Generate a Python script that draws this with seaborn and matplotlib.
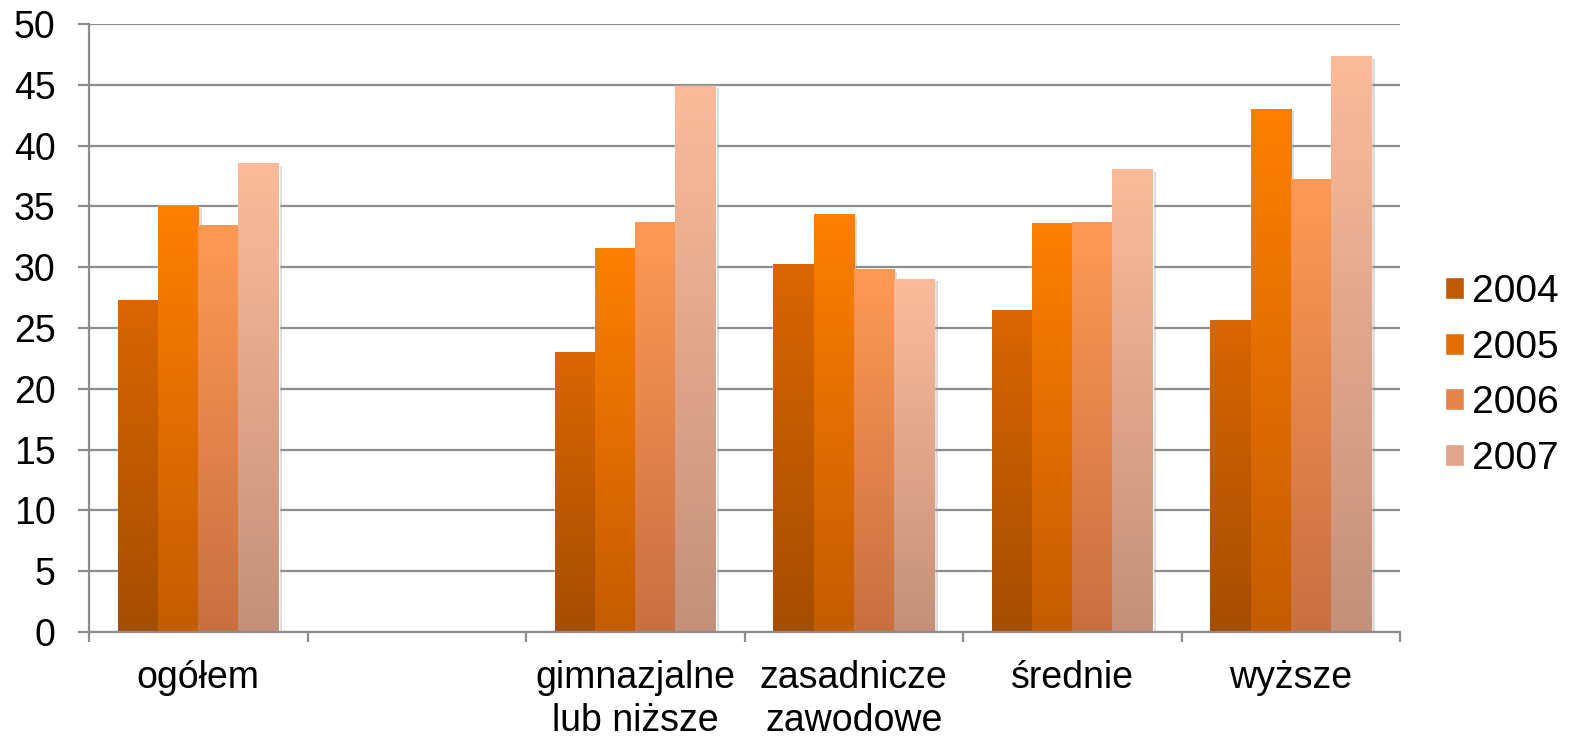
import numpy as np
import pandas as pd
import matplotlib.pyplot as plt
import matplotlib.colors as mcolors
import matplotlib.patheffects as pe
from matplotlib.patches import Patch
import seaborn as sns

# data
categories = ["ogółem", " ", "gimnazjalne\nlub niższe", "zasadnicze\nzawodowe", "średnie", "wyższe"]
years = ["2004", "2005", "2006", "2007"]
v2004 = [27.3, np.nan, 23.0, 30.2, 26.4, 25.6]
v2005 = [35.0, np.nan, 31.5, 34.3, 33.6, 43.0]
v2006 = [33.4, np.nan, 33.7, 29.8, 33.7, 37.2]
v2007 = [38.5, np.nan, 44.9, 29.0, 38.0, 47.3]

top_colors = ["#d96600", "#ff7f00", "#ff9955", "#fbbb99"]
bottom_colors = ["#a64d00", "#c45c00", "#c87040", "#c4907a"]

rows = []
for year, vals in zip(years, [v2004, v2005, v2006, v2007]):
    for cat, v in zip(categories, vals):
        rows.append({"kategoria": cat, "rok": year, "wartosc": v})
df = pd.DataFrame(rows).dropna()

sns.set_style("white")
plt.rcParams["font.family"] = ["Liberation Sans", "DejaVu Sans"]
plt.rcParams["text.color"] = "black"
plt.rcParams["xtick.labelcolor"] = "black"
plt.rcParams["ytick.labelcolor"] = "black"

fig, ax = plt.subplots(figsize=(15.69, 7.36), dpi=100)
fig.subplots_adjust(left=89 / 1569, right=1400 / 1569, top=1 - 24 / 736, bottom=1 - 632 / 736)

sns.barplot(data=df, x="kategoria", y="wartosc", hue="rok", order=categories,
            hue_order=years, palette=top_colors, width=0.735, gap=0,
            saturation=1, errorbar=None, legend=False, ax=ax)

# vertical gradient on each bar, plus a soft shadow
top_rgb = [mcolors.to_rgb(c) for c in top_colors]
bot_rgb = [mcolors.to_rgb(c) for c in bottom_colors]
for p in list(ax.patches):
    fc = mcolors.to_rgb(p.get_facecolor())
    i = int(np.argmin([np.sum((np.array(fc) - np.array(t)) ** 2) for t in top_rgb]))
    x, w, h = p.get_x(), p.get_width(), p.get_height()
    if not np.isfinite(h) or h <= 0:
        continue
    p.set_path_effects([pe.SimplePatchShadow(offset=(2.5, -1.5), shadow_rgbFace="#999999", alpha=0.35),
                        pe.Normal()])
    t = np.linspace(0, 1, 200)[:, None, None]
    grad = np.array(bot_rgb[i])[None, None, :] * (1 - t) + np.array(top_rgb[i])[None, None, :] * t
    ax.imshow(grad, extent=[x, x + w, 0, h], origin="lower", aspect="auto", zorder=2)

ax.set_xlim(-0.5, len(categories) - 0.5)
ax.set_ylim(0, 50)
ax.set_yticks(np.arange(0, 51, 5))
ax.set_xlabel("")
ax.set_ylabel("")

ax.yaxis.grid(True, color="#8c8c8c", linewidth=1.6)
ax.set_axisbelow(True)
for s in ["top", "right"]:
    ax.spines[s].set_visible(False)
for s in ["left", "bottom"]:
    ax.spines[s].set_color("#8c8c8c")
    ax.spines[s].set_linewidth(1.6)

ax.set_xticks(np.arange(-0.5, len(categories)), minor=True)
ax.tick_params(axis="x", which="major", bottom=True, length=0, pad=20, labelsize=27)
ax.tick_params(axis="x", which="minor", bottom=True, length=7, width=1.6, color="#8c8c8c")
ax.tick_params(axis="y", left=True, length=8, width=1.6, color="#8c8c8c", labelsize=27, pad=16)
for lbl in ax.get_xticklabels():
    lbl.set_linespacing(1.25)

handles = [Patch(facecolor=mcolors.to_hex(
    (np.array(top_rgb[i]) + np.array(bot_rgb[i])) / 2)) for i in range(4)]
ax.legend(handles, years, loc="center left", bbox_to_anchor=(1445 / 1569, 0.49),
          bbox_transform=fig.transFigure, frameon=False, fontsize=28, borderpad=0,
          borderaxespad=0, handlelength=0.5, handleheight=0.5, handletextpad=0.2,
          labelspacing=0.5)

fig.savefig("out.png", dpi=100)
